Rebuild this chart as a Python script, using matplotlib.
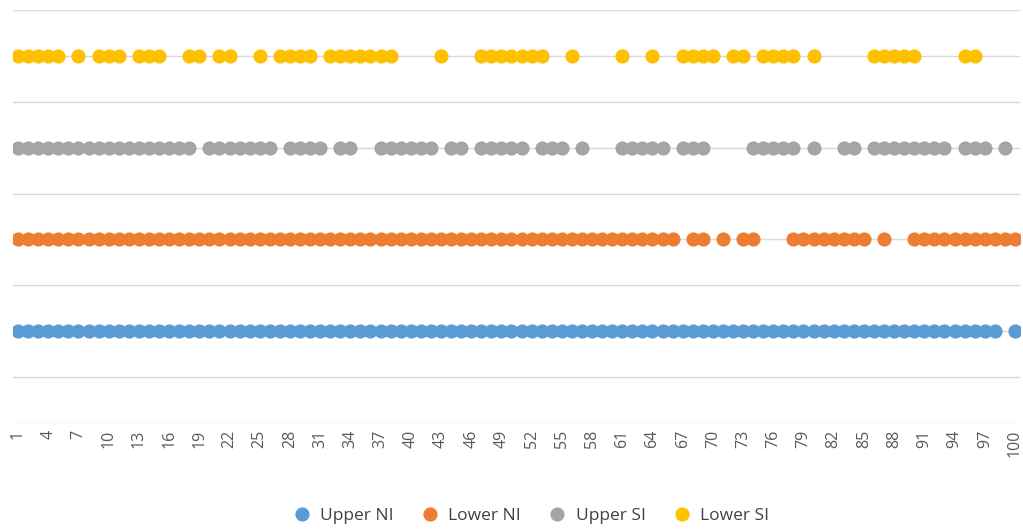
import matplotlib.pyplot as plt
import numpy as np

plt.rcParams['font.family'] = ['Open Sans', 'DejaVu Sans']

# index runs (inclusive) where each series has a dot
upper_ni_runs = [(1, 98), (100, 100)]
lower_ni_runs = [(1, 66), (68, 69), (71, 71), (73, 74), (78, 85), (87, 87), (90, 100)]
upper_si_runs = [(1, 18), (20, 26), (28, 31), (33, 34), (37, 42), (44, 45), (47, 51),
                 (53, 55), (57, 57), (61, 65), (67, 69), (74, 78), (80, 80), (83, 84),
                 (86, 93), (95, 97), (99, 99)]
lower_si_runs = [(1, 5), (7, 7), (9, 11), (13, 15), (18, 19), (21, 22), (25, 25), (27, 30),
                 (32, 38), (43, 43), (47, 53), (56, 56), (61, 61), (64, 64), (67, 70),
                 (72, 73), (75, 78), (80, 80), (86, 90), (95, 96)]

series_names = ['Upper NI', 'Lower NI', 'Upper SI', 'Lower SI']
series_levels = [1, 2, 3, 4]
series_colors = ['#5B9BD5', '#ED7D31', '#A5A5A5', '#FFC000']
series_runs = [upper_ni_runs, lower_ni_runs, upper_si_runs, lower_si_runs]

categories = list(range(1, 101))
tick_labels = [str(c) for c in categories[::3]]


def expand(runs):
    idx = []
    for a, b in runs:
        idx.extend(range(a, b + 1))
    return np.array(idx)


fig = plt.figure(figsize=(10.23, 5.32), dpi=100)
ax = fig.add_axes([13 / 1023, 1 - 423 / 532, (1020 - 13) / 1023, (423 - 10) / 532])

for name, lvl, col, runs in zip(series_names, series_levels, series_colors, series_runs):
    xs = expand(runs)
    ax.plot(xs, np.full(len(xs), lvl), linestyle='none', marker='o', markersize=9.2,
            markerfacecolor=col, markeredgecolor=col, label=name, zorder=3)

ax.set_xlim(0.5, 100.5)
ax.set_ylim(0, 4.5)
for g in np.arange(0, 4.6, 0.5):
    ax.axhline(g, color='#D9D9D9', linewidth=1.0, zorder=1)

ax.set_yticks([])
ax.set_xticks(categories[::3])
ax.set_xticklabels(tick_labels, rotation=90, fontsize=11.5, color='#595959')
ax.tick_params(axis='x', length=0, pad=5)
for s in ax.spines.values():
    s.set_visible(False)

fig.legend(loc='center', bbox_to_anchor=(0.515, 1 - 516 / 532), ncol=4, frameon=False,
           fontsize=12.5, handletextpad=0.05, columnspacing=1.1, markerscale=1.0,
           labelcolor='#404040')

fig.savefig('out.png', dpi=100)
